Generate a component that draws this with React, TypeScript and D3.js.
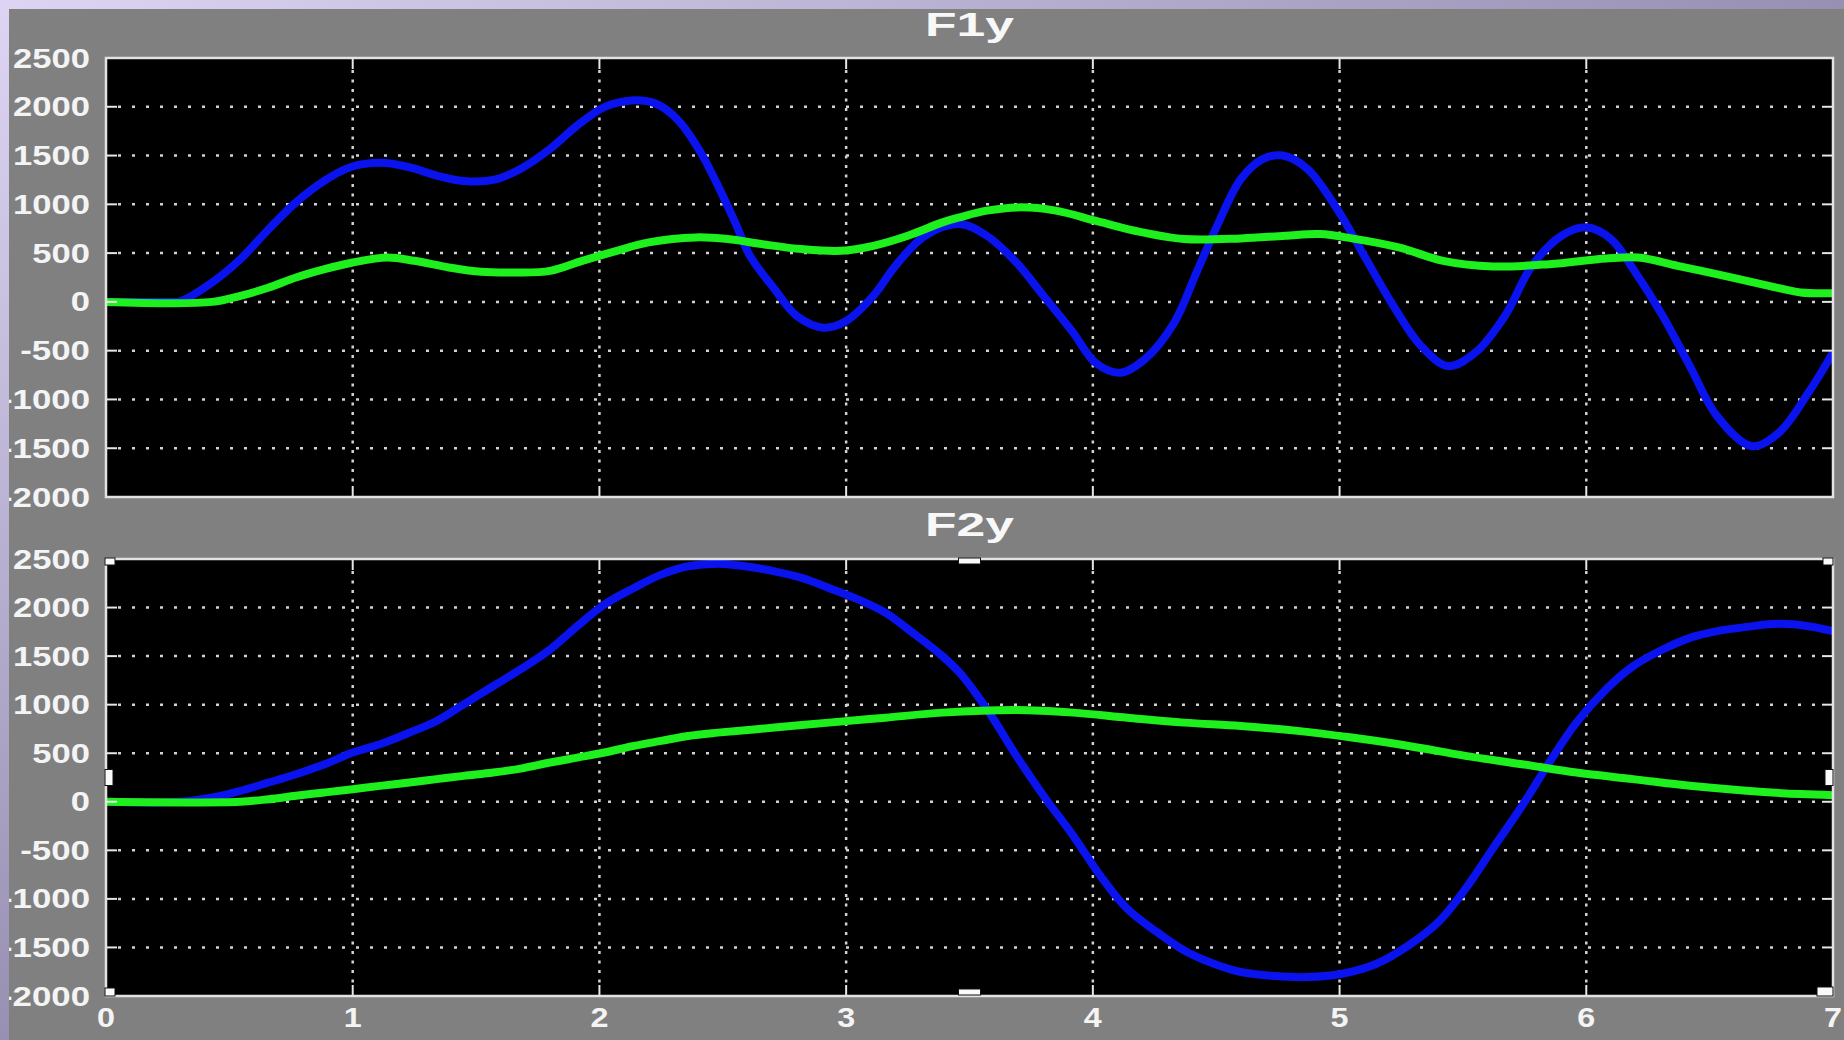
import React, { useCallback, useEffect, useRef } from 'react'
import * as d3 from 'd3'

// axis ticks
const xTicks = [0, 1, 2, 3, 4, 5, 6, 7]
const yTicks = [-2000, -1500, -1000, -500, 0, 500, 1000, 1500, 2000, 2500]

// F1y, blue trace
const f1yBlueT = [0, 0.25, 0.3, 0.43, 0.545, 0.66, 0.77, 0.886, 0.99, 1.11, 1.23, 1.34, 1.45, 1.57, 1.68, 1.8, 1.91, 2.02, 2.13, 2.23, 2.32, 2.41, 2.48, 2.55, 2.61, 2.71, 2.8, 2.91, 3.0, 3.11, 3.2, 3.32, 3.46, 3.57, 3.69, 3.8, 3.92, 4.01, 4.11, 4.21, 4.33, 4.42, 4.51, 4.6, 4.69, 4.77, 4.87, 4.99, 5.1, 5.21, 5.33, 5.44, 5.55, 5.67, 5.78, 5.9, 6.0, 6.1, 6.19, 6.31, 6.42, 6.53, 6.67, 6.78, 6.9, 7.0]
const f1yBlueV = [0, 0, 5, 199, 438, 747, 1020, 1243, 1380, 1425, 1380, 1295, 1240, 1250, 1363, 1568, 1808, 1997, 2065, 2031, 1860, 1534, 1192, 815, 473, 130, -144, -264, -195, 62, 370, 678, 798, 678, 404, 62, -315, -623, -726, -589, -212, 301, 815, 1260, 1466, 1500, 1363, 952, 473, -7, -452, -658, -521, -144, 370, 678, 764, 644, 336, -144, -658, -1171, -1479, -1342, -932, -521]

// F1y, green trace
const f1yGreenT = [0, 0.43, 0.545, 0.66, 0.77, 0.886, 1.0, 1.14, 1.25, 1.39, 1.52, 1.66, 1.8, 1.93, 2.07, 2.2, 2.39, 2.52, 2.66, 2.82, 2.98, 3.11, 3.25, 3.39, 3.46, 3.57, 3.71, 3.85, 4.01, 4.17, 4.37, 4.6, 4.78, 4.92, 5.05, 5.24, 5.42, 5.62, 5.85, 6.08, 6.21, 6.37, 6.56, 6.74, 6.87, 7.0]
const f1yGreenV = [0, 0, 62, 147, 250, 336, 404, 455, 421, 353, 308, 301, 318, 421, 524, 610, 661, 644, 592, 541, 524, 575, 678, 815, 866, 935, 969, 935, 832, 729, 644, 651, 678, 695, 651, 558, 421, 363, 387, 445, 455, 370, 267, 164, 96, 89]

// F2y, blue trace
const f2yBlueT = [0, 0.3, 0.43, 0.545, 0.66, 0.77, 0.886, 1.0, 1.11, 1.23, 1.34, 1.45, 1.57, 1.68, 1.8, 1.91, 2.02, 2.14, 2.25, 2.36, 2.48, 2.59, 2.71, 2.82, 2.93, 3.05, 3.16, 3.27, 3.39, 3.46, 3.58, 3.69, 3.8, 3.92, 4.03, 4.14, 4.26, 4.37, 4.49, 4.6, 4.74, 4.87, 5.01, 5.15, 5.28, 5.4, 5.51, 5.62, 5.74, 5.85, 5.96, 6.08, 6.19, 6.31, 6.42, 6.53, 6.65, 6.78, 6.9, 7.0]
const f2yBlueV = [0, 0, 45, 113, 199, 284, 387, 507, 592, 712, 832, 1003, 1192, 1363, 1568, 1808, 2031, 2202, 2339, 2425, 2452, 2425, 2373, 2305, 2202, 2082, 1945, 1740, 1500, 1329, 918, 473, 62, -349, -760, -1103, -1342, -1531, -1668, -1753, -1795, -1805, -1771, -1668, -1479, -1240, -897, -486, -41, 404, 815, 1158, 1397, 1568, 1688, 1757, 1801, 1832, 1808, 1757]

// F2y, green trace
const f2yGreenT = [0, 0.545, 0.66, 0.77, 0.886, 1.0, 1.11, 1.23, 1.34, 1.45, 1.57, 1.68, 1.8, 1.91, 2.02, 2.14, 2.25, 2.36, 2.48, 2.71, 2.93, 3.16, 3.39, 3.69, 3.92, 4.14, 4.37, 4.6, 4.83, 5.05, 5.28, 5.51, 5.74, 5.96, 6.19, 6.42, 6.65, 6.87, 7.0]
const f2yGreenV = [0, 0, 27, 62, 96, 130, 164, 199, 233, 267, 301, 342, 404, 455, 507, 575, 627, 678, 712, 764, 815, 866, 918, 945, 918, 866, 815, 781, 730, 661, 575, 473, 387, 301, 233, 164, 113, 79, 68]

const W = 1844
const H = 1040

// the source font is wider than Liberation, so labels are stretched to it
const labelWidth = (s: string) => s.replace('-', '').length * 19.25 + (s.startsWith('-') ? 12 : 0)

function App() {
  const chartRef = useRef<SVGSVGElement>(null)

  const drawChart = useCallback(() => {
    const svg = d3.select(chartRef.current)
    svg.selectAll('*').remove()

    const defs = svg.append('defs')
    const grad = defs.append('linearGradient')
      .attr('id', 'bg').attr('x1', 0).attr('y1', 0).attr('x2', 1).attr('y2', 1)
    grad.append('stop').attr('offset', '0%').attr('stop-color', '#ddd5f3')
    grad.append('stop').attr('offset', '50%').attr('stop-color', '#9890b2')
    grad.append('stop').attr('offset', '100%').attr('stop-color', '#6c6686')
    defs.append('clipPath').attr('id', 'panel')
      .append('rect').attr('x', 9).attr('y', 9).attr('width', W - 9).attr('height', H - 9)

    svg.append('rect').attr('width', W).attr('height', H).attr('fill', 'url(#bg)')

    const root = svg.append('g').attr('clip-path', 'url(#panel)')
    root.append('rect').attr('x', 9).attr('y', 9).attr('width', W - 9).attr('height', H - 9)
      .attr('fill', '#808080')

    const left = 106
    const right = 1833
    const x = d3.scaleLinear().domain([0, 7]).range([left, right])

    const panels = [
      { id: 'p1', title: 'F1y', top: 58, bottom: 497, titleY: 36,
        series: [[f1yBlueT, f1yBlueV, '#0a12ee'], [f1yGreenT, f1yGreenV, '#1ef01e']], handles: false },
      { id: 'p2', title: 'F2y', top: 559, bottom: 996, titleY: 536,
        series: [[f2yBlueT, f2yBlueV, '#0a12ee'], [f2yGreenT, f2yGreenV, '#1ef01e']], handles: true },
    ]

    const font = '"Liberation Sans", Arial, sans-serif'

    panels.forEach(p => {
      const y = d3.scaleLinear().domain([-2000, 2500]).range([p.bottom, p.top])
      const g = root.append('g')

      g.append('rect')
        .attr('x', left).attr('y', p.top)
        .attr('width', right - left).attr('height', p.bottom - p.top)
        .attr('fill', '#000')

      defs.append('clipPath').attr('id', 'clip-' + p.id)
        .append('rect').attr('x', left).attr('y', p.top)
        .attr('width', right - left).attr('height', p.bottom - p.top)

      // dotted grid
      g.selectAll('.hgrid')
        .data(yTicks.slice(1, -1))
        .join('line')
        .attr('x1', left + 12).attr('x2', right - 12)
        .attr('y1', d => y(d)).attr('y2', d => y(d))
        .attr('stroke', '#d2d2d2').attr('stroke-width', 2.5)
        .attr('stroke-dasharray', '3 11')
      g.selectAll('.vgrid')
        .data(xTicks.slice(1, -1))
        .join('line')
        .attr('x1', d => x(d)).attr('x2', d => x(d))
        .attr('y1', p.top + 12).attr('y2', p.bottom - 12)
        .attr('stroke', '#d2d2d2').attr('stroke-width', 2.5)
        .attr('stroke-dasharray', '3 6.5')

      // traces
      const lines = g.append('g').attr('clip-path', 'url(#clip-' + p.id + ')')
      p.series.forEach(s => {
        const ts = s[0] as number[]
        const vs = s[1] as number[]
        const line = d3.line<number>()
          .x((d, i) => x(ts[i]))
          .y(d => y(d))
          .curve(d3.curveCatmullRom.alpha(0.5))
        lines.append('path')
          .attr('d', line(vs))
          .attr('fill', 'none')
          .attr('stroke', s[2] as string)
          .attr('stroke-width', 8)
          .attr('stroke-linejoin', 'round')
      })

      // tick marks on all four sides
      const tickLen = 11
      yTicks.forEach(v => {
        g.append('line').attr('x1', left).attr('x2', left + tickLen)
          .attr('y1', y(v)).attr('y2', y(v)).attr('stroke', '#e6e6e6').attr('stroke-width', 2)
        g.append('line').attr('x1', right - tickLen).attr('x2', right)
          .attr('y1', y(v)).attr('y2', y(v)).attr('stroke', '#e6e6e6').attr('stroke-width', 2)
      })
      xTicks.forEach(v => {
        g.append('line').attr('x1', x(v)).attr('x2', x(v))
          .attr('y1', p.top).attr('y2', p.top + tickLen).attr('stroke', '#e6e6e6').attr('stroke-width', 2)
        g.append('line').attr('x1', x(v)).attr('x2', x(v))
          .attr('y1', p.bottom - tickLen).attr('y2', p.bottom).attr('stroke', '#e6e6e6').attr('stroke-width', 2)
      })

      // axes box
      g.append('rect')
        .attr('x', left).attr('y', p.top)
        .attr('width', right - left).attr('height', p.bottom - p.top)
        .attr('fill', 'none').attr('stroke', '#e2e2e2').attr('stroke-width', 2.5)

      // y tick labels
      g.selectAll('.ylab')
        .data(yTicks)
        .join('text')
        .attr('x', 90)
        .attr('y', d => y(d) + 9.5)
        .attr('text-anchor', 'end')
        .attr('font-family', font)
        .attr('font-weight', 'bold')
        .attr('font-size', 27)
        .attr('fill', '#f4f4f4')
        .attr('textLength', d => labelWidth(String(d)))
        .attr('lengthAdjust', 'spacingAndGlyphs')
        .text(d => String(d))

      // title
      g.append('text')
        .attr('x', (left + right) / 2)
        .attr('y', p.titleY)
        .attr('text-anchor', 'middle')
        .attr('font-family', font)
        .attr('font-weight', 'bold')
        .attr('font-size', 33)
        .attr('fill', '#f8f8f8')
        .attr('textLength', 89)
        .attr('lengthAdjust', 'spacingAndGlyphs')
        .text(p.title)

      // selection handles on the active axes
      if (p.handles) {
        const mid = (left + right) / 2
        const midY = (p.top + p.bottom) / 2
        const hs = [
          [left - 1, p.top - 1, 10, 7], [mid - 11, p.top - 1, 22, 6], [right - 10, p.top - 1, 10, 7],
          [left - 1, midY - 8, 8, 16], [right - 8, midY - 8, 8, 16],
          [left - 1, p.bottom - 8, 10, 8], [mid - 11, p.bottom - 7, 22, 6], [right - 16, p.bottom - 9, 16, 9],
        ]
        g.selectAll('.handle')
          .data(hs)
          .join('rect')
          .attr('x', d => d[0]).attr('y', d => d[1])
          .attr('width', d => d[2]).attr('height', d => d[3])
          .attr('fill', '#fafafa').attr('stroke', '#111').attr('stroke-width', 1)
      }
    })

    // x tick labels under the lower axes
    root.selectAll('.xlab')
      .data(xTicks)
      .join('text')
      .attr('x', d => x(d))
      .attr('y', 1027)
      .attr('text-anchor', 'middle')
      .attr('font-family', font)
      .attr('font-weight', 'bold')
      .attr('font-size', 27)
      .attr('fill', '#f4f4f4')
      .attr('textLength', 18)
      .attr('lengthAdjust', 'spacingAndGlyphs')
      .text(d => String(d))
  }, [])

  useEffect(() => {
    drawChart()
  }, [drawChart])

  return (
    <div id='chart'>
      <svg ref={chartRef} width={W} height={H}
        style={{ position: 'absolute', left: 0, top: 0, display: 'block' }} />
    </div>
  )
}

export default App
